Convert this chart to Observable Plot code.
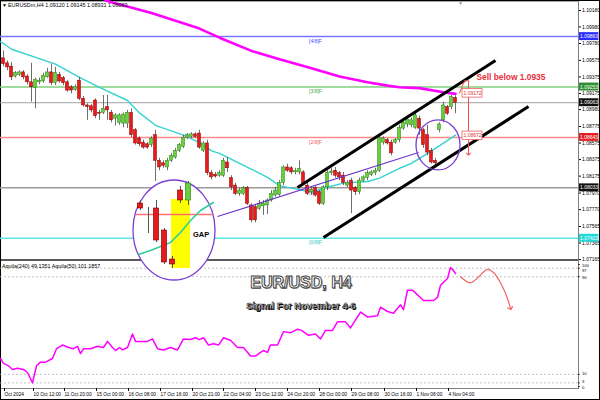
<!DOCTYPE html>
<html><head><meta charset="utf-8">
<script src="https://cdn.jsdelivr.net/npm/d3@7"></script>
<script src="https://cdn.jsdelivr.net/npm/@observablehq/plot@0.6"></script>
<style>
html,body{margin:0;padding:0;background:#fff;}
#wrap{position:relative;width:600px;height:400px;overflow:hidden;background:#fff;font-family:"Liberation Sans",Arial,sans-serif;}
#wrap > *{position:absolute;}
</style></head><body>
<div id="wrap"></div>
<script>
// ---------- price bars (H4, index 0 = first visible bar) ----------
const open = [1.0960,1.0954,1.0950,1.0938,1.0940,1.0943,1.0938,1.0931,1.0924,1.0931,
1.0932,1.0937,1.0943,1.0930,1.0940,1.0936,1.0931,1.0925,1.0922,1.0933,
1.0911,1.0903,1.0902,1.0909,1.0894,1.0894,1.0901,1.0894,1.0887,1.0882,
1.0881,1.0881,1.0894,1.0873,1.0863,1.0858,1.0856,1.0855,1.0867,1.0836,
1.0833,1.0828,1.0836,1.0840,1.0848,1.0853,1.0864,1.0865,1.0868,1.0869,
1.0848,1.0857,1.0821,1.0819,1.0818,1.0818,1.0834,1.0815,1.0806,1.0796,
1.0796,1.0803,1.0782,1.0780,1.0778,1.0781,1.0782,1.0788,1.0794,1.0795,
1.0809,1.0828,1.0827,1.0822,1.0822,1.0822,1.0806,1.0798,1.0803,1.0798,
1.0784,1.0804,1.0821,1.0824,1.0821,1.0818,1.0806,1.0812,1.0803,1.0798,
1.0812,1.0815,1.0819,1.0821,1.0824,1.0858,1.0861,1.0858,1.0858,1.0861,
1.0875,1.0880,1.0879,1.0876,1.0887,1.0873,1.0867,1.0848,1.0836,1.0873,
1.0885,1.0901,1.0901,1.09120];
const high = [1.0969,1.0957,1.0955,1.0944,1.0945,1.0945,1.0940,1.0954,1.0936,1.0936,
1.0942,1.0948,1.0953,1.0949,1.0943,1.0938,1.0933,1.0927,1.0928,1.0937,
1.0914,1.0905,1.0904,1.0911,1.0897,1.0915,1.0915,1.0897,1.0893,1.0893,
1.0894,1.0897,1.0899,1.0875,1.0865,1.0861,1.0858,1.0865,1.0873,1.0839,
1.0836,1.0839,1.0845,1.0851,1.0857,1.0867,1.0869,1.0870,1.0870,1.0873,
1.0859,1.0861,1.0824,1.0822,1.0824,1.0839,1.0840,1.0818,1.0809,1.0803,
1.0805,1.0805,1.0784,1.0782,1.0788,1.0788,1.0790,1.0800,1.0804,1.0812,
1.0830,1.0832,1.0829,1.0827,1.0836,1.0824,1.0809,1.0805,1.0805,1.0800,
1.0806,1.0824,1.0827,1.0828,1.0823,1.0822,1.0812,1.0815,1.0805,1.0815,
1.0818,1.0824,1.0824,1.0827,1.0867,1.0865,1.0863,1.0861,1.0863,1.0879,
1.0887,1.0890,1.0888,1.0894,1.0890,1.0875,1.0879,1.0851,1.0839,1.0882,
1.0907,1.0903,1.0915,1.09145];
const low = [1.0950,1.0945,1.0933,1.0936,1.0938,1.0934,1.0928,1.0907,1.0899,1.0928,
1.0930,1.0936,1.0927,1.0927,1.0930,1.0927,1.0919,1.0917,1.0920,1.0909,
1.0901,1.0885,1.0894,1.0887,1.0885,1.0892,1.0885,1.0882,1.0878,1.0879,
1.0876,1.0875,1.0864,1.0855,1.0853,1.0850,1.0850,1.0852,1.0811,1.0824,
1.0827,1.0824,1.0834,1.0838,1.0846,1.0851,1.0862,1.0863,1.0863,1.0850,
1.0846,1.0818,1.0813,1.0815,1.0816,1.0816,1.0822,1.0800,1.0794,1.0793,
1.0794,1.0782,1.0761,1.0761,1.0776,1.0770,1.0771,1.0786,1.0792,1.0793,
1.0806,1.0822,1.0819,1.0819,1.0819,1.0806,1.0794,1.0794,1.0792,1.0782,
1.0782,1.0800,1.0818,1.0815,1.0812,1.0806,1.0803,1.0772,1.0794,1.0795,
1.0810,1.0812,1.0817,1.0818,1.0822,1.0855,1.0855,1.0842,1.0856,1.0858,
1.0873,1.0876,1.0876,1.0874,1.0867,1.0851,1.0842,1.0832,1.0830,1.0870,
1.0882,1.0891,1.0898,1.08931];
const close = [1.0953,1.0949,1.0937,1.0942,1.0943,1.0937,1.0931,1.0925,1.0934,1.0933,
1.0939,1.0943,1.0930,1.0942,1.0932,1.0930,1.0921,1.0921,1.0925,1.0911,
1.0903,1.0901,1.0897,1.0890,1.0893,1.0899,1.0897,1.0885,1.0891,1.0891,
1.0892,1.0894,1.0867,1.0857,1.0856,1.0852,1.0852,1.0863,1.0836,1.0828,
1.0830,1.0836,1.0842,1.0848,1.0855,1.0864,1.0867,1.0868,1.0865,1.0852,
1.0857,1.0821,1.0816,1.0817,1.0821,1.0836,1.0827,1.0804,1.0796,1.0800,
1.0803,1.0784,1.0764,1.0764,1.0784,1.0784,1.0788,1.0796,1.0800,1.0809,
1.0828,1.0824,1.0822,1.0824,1.0826,1.0809,1.0796,1.0801,1.0794,1.0784,
1.0804,1.0821,1.0823,1.0818,1.0816,1.0809,1.0809,1.0800,1.0798,1.0812,
1.0816,1.0821,1.0822,1.0824,1.0864,1.0863,1.0857,1.0845,1.0861,1.0876,
1.0882,1.0886,1.0885,1.0891,1.0875,1.0855,1.0846,1.0834,1.0833,1.0880,
1.0903,1.0893,1.0913,1.09063];

// moving averages (bar index, value)
const cyanIdx = [-0.75,0,2,13,19,24,31,34,38,45,49,52,54,59,66,69,72,77,81,85,91,94,99,102,104,108,113];
const cyanVal = [1.0980,1.0978,1.0971,1.0953,1.0937,1.0925,1.0909,1.0894,1.0879,1.0867,1.0858,1.0848,1.0845,1.0833,1.0816,1.0806,1.0803,1.0798,1.0804,1.0809,1.0811,1.0815,1.0827,1.0833,1.0839,1.0851,1.0867];
const magIdx = [25.5,27,37,49,54,62,69,77,84,91,96,99,104,110,113];
const magVal = [1.1030,1.1028,1.1015,1.0996,1.0985,1.0969,1.0959,1.0948,1.0938,1.0931,1.0927,1.0925,1.0924,1.0919,1.0917];

// Murray math levels
const murrayVal = [1.09863,1.09253,1.08643,1.08033,1.07423];
const murrayName = ["[4/8]F","[3/8]F","[2/8]F","[1/8]F","[0/8]F"];
const currentPrice = 1.09063;

// right axis
const priceTicks = [1.07165,1.07365,1.07565,1.07770,1.07970,1.08175,1.08375,1.08575,1.08775,1.08980,1.09175,1.09375,1.09575,1.09780,1.09980,1.10180];
const priceTickLabels = ["1.07165","1.07365","1.07565","1.07770","1.07970","1.08175","1.08375","1.08575","1.08775","1.08980","1.09175","1.09375","1.09575","1.09780","1.09980","1.10180"];
const boxVal = [1.09863,1.09253,1.09063,1.08643,1.08033,1.07423];
const boxText = ["1.09863","1.09253","1.09063","1.08643","1.08033","1.07423"];

// drawn objects (bar index, price)
const chanX1 = [73.5,80], chanY1 = [1.08037,1.07432], chanX2 = [123,131.25], chanY2 = [1.09574,1.09017];
const trendX = [53.5,103.75], trendY = [1.07686,1.08461];
const ellCx = [42.75,108.75], ellCy = [1.07517,1.08546], ellRx = [10.25,5.5], ellRy = [0.00605,0.003025];
const sellIdx = [114,115.25,116.25,116.25], sellVal = [1.0918,1.0933,1.0933,1.0844];
const maLabelVal = [1.09177,1.08662], maLabelText = ["1.09172","1.08672"];

// zoomed gap inset (bar slot, price)
const inJ = [0,1,2,3,4,5,6];
const inOpen = [1.08846,1.08727,1.08811,1.08657,1.08454,1.08937,1.08867];
const inHigh = [1.08867,1.08818,1.08867,1.08671,1.08475,1.08965,1.09000];
const inLow = [1.08797,1.08636,1.08573,1.08419,1.08391,1.08846,1.08832];
const inClose = [1.08811,1.08727,1.08587,1.08433,1.08419,1.08867,1.08986];
const inCyanJ = [-0.25,1.25,3.75,5,6.25,7.5,9.1];
const inCyanV = [1.08489,1.08517,1.08573,1.08643,1.08727,1.08797,1.08853];
const gapJ = [3.875,6.25], gapV = [1.08391,1.08874];
const inRedLevel = 1.08769;

// oscillator panel
const aqIdx = [-0.75,0,1.25,2.25,3.5,5,6,7.25,8.25,9.25,10.5,12.25,13.25,14.75,16.25,17.5,18.5,19.25,20,21.75,23.5,25,26,27.25,28,29,29.75,31,32.25,33,36,37.25,38.5,40,41.75,43.5,45,46.75,48,49,50,51.25,52.5,53.75,55,56.75,58.5,60,61.75,63,64.25,65,66,66.75,68.5,70,71.75,73.5,74.5,76.25,78,79.25,80.5,82.25,83.5,85.5,86.75,89.25,91,93.5,94.25,96,97.5,99.25,100,101,102.25,105,107.5,108.5,109.25,111,111.75,112.5,113];
const aqVal = [23,19,17,14,15,14,11.5,3,17,20,20,23,31,34,32,31,33,27,31,31,33,32,37,32,29.5,32,30,32,43,37,37,39,31,30,32,30,39,38.5,40,38.5,40,34,35,34,40,38,32,32,25,25,28,29.5,28,34,34,45,44,47,46,42,43,39,46,46,53,53,48,61,57,58,65,61.5,60,67,63,79,79,70.5,70.5,73,83,88.5,97.5,95,92.6];
const aqLevels = [97,90,10,3];
const aqTicks = [100,97,90,10,3,0];
const fcIdx = [114.25,116.75,118.5,121,122.5,124.25,126,126.75];
const fcVal = [90,85,89,96,93.4,85,72,64];

// time axis
const xTickIdx = [0,7.25,15,23,31,39,47,54.75,62.75,70.75,78.75,86.75,95,103,111];
const xTickLabels = ["Oct 2024","10 Oct 12:00","11 Oct 20:00","15 Oct 00:00","16 Oct 08:00","17 Oct 16:00","20 Oct 21:00","22 Oct 04:00","23 Oct 12:00","24 Oct 20:00","28 Oct 00:00","29 Oct 08:00","30 Oct 16:00","1 Nov 08:00","4 Nov 04:00"];

// ---------- styles ----------
const murrayColor = ["#7878ff","#7fcf7f","#ff8a8a","#9a9a9a","#5fe6e6"];
const murrayTextColor = ["#4a4aff","#3fa83f","#f05a5a","#777","#2cc6c6"];
const boxColor = ["#2b2bff","#2e8f2e","#111","#e42020","#111","#22d8d8"];
const aqLabelShift = [1.0,2.7,1.2,-0.5,-1.6,1.3];
const FONT = "Liberation Sans, Arial, sans-serif";

const wrap = document.getElementById("wrap");
function addDiv(css, text){const d=document.createElement("div");d.style.cssText="position:absolute;"+css;if(text)d.textContent=text;wrap.appendChild(d);return d;}
function place(node,left,top){node.style.position="absolute";node.style.left=left+"px";node.style.top=top+"px";wrap.appendChild(node);}

// frames
addDiv("left:0;top:0;width:600px;height:400px;box-sizing:border-box;border:1px solid #000;");
addDiv("left:578px;top:1px;width:1px;height:388px;background:#808080;");
addDiv("left:1px;top:1px;width:577px;height:1px;background:#a8a8a8;");
addDiv("left:1px;top:259px;width:577px;height:2px;background:#5a5a5a;");
addDiv("left:1px;top:388px;width:577px;height:1px;background:#808080;");

const bars = open.map((o,k)=>({i:k,o,h:high[k],l:low[k],c:close[k]}));
const tickLabelOf = new Map(priceTicks.map((v,k)=>[v,priceTickLabels[k]]));
const xLabelOf = new Map(xTickIdx.map((v,k)=>[v,xTickLabels[k]]));

// ---------- lower oscillator panel ----------
const lower = Plot.plot({
  width:600,height:139,marginTop:3,marginBottom:12,marginLeft:0,marginRight:22,
  x:{domain:[-0.75,143.75],axis:null},
  y:{domain:[-1.6,100],axis:null},
  style:{background:"transparent",overflow:"visible",fontFamily:FONT,fontSize:"5px",color:"#000"},
  marks:[
    Plot.ruleY(aqLevels,{stroke:"#b5b5b5",strokeWidth:0.8,strokeDasharray:"2,2"}),
    Plot.line(aqIdx,{x:d=>d,y:(d,k)=>aqVal[k],stroke:"#ff00ff",strokeWidth:1.5}),
    Plot.line(fcIdx,{x:d=>d,y:(d,k)=>fcVal[k],stroke:"#f06464",strokeWidth:1.2,curve:"catmull-rom",markerEnd:"arrow"}),
    Plot.ruleY(aqTicks,{x1:143.75,x2:144.25,stroke:"#000",strokeWidth:0.7}),
    ...aqTicks.map((v,k)=>Plot.text([String(v)],{x:144.6,y:v,dy:aqLabelShift[k],text:d=>d,textAnchor:"start",fontSize:4.2,fill:"#000"})),
    Plot.axisX({anchor:"bottom",ticks:xTickIdx,tickFormat:d=>xLabelOf.get(d),tickSize:3,tickPadding:1.5,fontSize:4.8,textAnchor:"start",dx:1})
  ]
});
place(lower,0,261);

// ---------- main price panel ----------
const ellipseMark = (index, scales) => {
  const g = d3.create("svg:g");
  ellCx.forEach((cx,k)=>{
    const x0 = scales.x(cx), y0 = scales.y(ellCy[k]);
    g.append("ellipse").attr("cx",x0).attr("cy",y0)
      .attr("rx",Math.abs(scales.x(cx+ellRx[k])-x0))
      .attr("ry",Math.abs(scales.y(ellCy[k]+ellRy[k])-y0))
      .attr("fill",k===0?"#fff":"none").attr("stroke","#7b3fd2").attr("stroke-width",1.3);
  });
  return g.node();
};

const main = Plot.plot({
  width:600,height:260,marginTop:0,marginBottom:1,marginLeft:0,marginRight:22,
  x:{domain:[-0.75,143.75],axis:null},
  y:{domain:[1.07166,1.1030],axis:null},
  color:{type:"identity"},
  style:{background:"transparent",overflow:"visible",fontFamily:FONT,fontSize:"5px",color:"#000"},
  marks:[
    ...murrayVal.map((v,k)=>Plot.ruleY([v],{stroke:murrayColor[k],strokeWidth:1.5,x1:-0.75,x2:143.75})),
    Plot.ruleY([currentPrice],{stroke:"#a0a0a0",strokeWidth:1,x1:-0.75,x2:143.75}),
    ...murrayVal.map((v,k)=>Plot.text([murrayName[k]],{x:78,y:v,dy:4.5,text:d=>d,fill:murrayTextColor[k],fontSize:5})),
    Plot.line(magIdx,{x:d=>d,y:(d,k)=>magVal[k],stroke:"#ff00ff",strokeWidth:2.6}),
    Plot.line(cyanIdx,{x:d=>d,y:(d,k)=>cyanVal[k],stroke:"#33d3d3",strokeWidth:1.4}),
    Plot.ruleX(bars,{x:"i",y1:"l",y2:"h",stroke:"#4a4a4a",strokeWidth:0.8}),
    Plot.rect(bars,{x1:d=>d.i-0.38,x2:d=>d.i+0.38,y1:d=>Math.min(d.o,d.c),y2:d=>Math.max(d.o,d.c),
      fill:d=>d.c>=d.o?"#66d13c":"#e61c1c",stroke:d=>d.c>=d.o?"#2f7d1f":"#8c0000",strokeWidth:0.5}),
    Plot.link(chanX1,{x1:d=>d,y1:(d,k)=>chanY1[k],x2:(d,k)=>chanX2[k],y2:(d,k)=>chanY2[k],stroke:"#000",strokeWidth:3}),
    Plot.link([trendX[0]],{x1:d=>d,y1:trendY[0],x2:trendX[1],y2:trendY[1],stroke:"#6b35c9",strokeWidth:1.2}),
    ellipseMark,
    Plot.line(sellIdx,{x:d=>d,y:(d,k)=>sellVal[k],stroke:"#f05050",strokeWidth:1,markerEnd:"arrow"}),
    Plot.rect(maLabelVal,{x1:114.75,x2:119.75,y1:d=>d-0.00052,y2:d=>d+0.00052,fill:"#fff",stroke:"#f06060",strokeWidth:0.8}),
    Plot.text(maLabelVal,{x:117.25,y:d=>d,text:(d,k)=>maLabelText[k],fill:"#e03030",fontSize:5}),
    Plot.text(["Sell below 1.0935"],{x:118.25,y:1.09368,text:d=>d,textAnchor:"start",fill:"#e8303a",fontWeight:"bold",fontSize:8.4}),
    Plot.axisY({anchor:"right",ticks:priceTicks,tickFormat:d=>tickLabelOf.get(d),tickSize:2,tickPadding:1.5,fontSize:5}),
    Plot.rect(boxVal,{x1:144,x2:148.85,y1:d=>d-0.00048,y2:d=>d+0.00048,fill:(d,k)=>boxColor[k]}),
    Plot.text(boxVal,{x:146.4,y:d=>d,text:(d,k)=>boxText[k],fill:"#fff",fontSize:5})
  ]
});
place(main,0,0);

// ---------- zoomed gap inset inside the big circle ----------
const inBars = inJ.map((j,k)=>({j,o:inOpen[k],h:inHigh[k],l:inLow[k],c:inClose[k]}));
const inset = Plot.plot({
  width:84,height:100,marginTop:0,marginBottom:0,marginLeft:0,marginRight:0,
  x:{domain:[-0.875,9.625],axis:null},
  y:{domain:[1.0830,1.0900],axis:null},
  color:{type:"identity"},
  style:{background:"transparent",overflow:"visible",fontFamily:FONT},
  marks:[
    Plot.rect([0],{x1:gapJ[0],x2:gapJ[1],y1:gapV[0],y2:gapV[1],fill:"#ffff00"}),
    Plot.ruleY([inRedLevel],{x1:-0.55,x2:9.1,stroke:"#ff7070",strokeWidth:1.3}),
    Plot.line(inCyanJ,{x:d=>d,y:(d,k)=>inCyanV[k],stroke:"#2fcf9a",strokeWidth:1.6}),
    Plot.ruleX(inBars,{x:"j",y1:"l",y2:"h",stroke:"#555",strokeWidth:1}),
    Plot.rect(inBars,{x1:d=>d.j-0.33,x2:d=>d.j+0.33,y1:d=>Math.min(d.o,d.c),y2:d=>Math.max(d.o,d.c),
      fill:d=>d.c>d.o?"#66d13c":(d.c<d.o?"#e61c1c":"#555"),stroke:d=>d.c>d.o?"#2f7d1f":"#7a0000",strokeWidth:0.6}),
    Plot.text(["GAP"],{x:6.55,y:1.08629,text:d=>d,textAnchor:"start",fontWeight:"bold",fontSize:7.5,fill:"#000"})
  ]
});
place(inset,133,181);

// ---------- texts ----------
addDiv("left:2px;top:2px;font-size:5px;color:#000;white-space:nowrap;","▼");
addDiv("left:8px;top:2px;font-size:5.4px;color:#000;white-space:nowrap;","EURUSDm,H4  1.09120  1.09145  1.08931  1.09063");
addDiv("left:458px;top:0px;font-size:5px;color:#999;white-space:nowrap;","▼");
addDiv("left:2px;top:263px;font-size:5.4px;color:#000;white-space:nowrap;","Aquila(240) 49.1351  Aquila(50) 101.1857");
addDiv("left:201px;width:200px;top:275px;text-align:center;font-size:16px;line-height:16px;font-weight:bold;color:#fff;-webkit-text-stroke:0.9px #3a3a3a;text-shadow:1px 1px 0 #9a9a9a;white-space:nowrap;","EUR/USD, H4");
addDiv("left:201px;width:200px;top:302px;text-align:center;font-size:9.3px;line-height:9.5px;font-weight:bold;color:#fff;-webkit-text-stroke:0.5px #000;text-shadow:1px 1px 0 #000;white-space:nowrap;","Signal For November 4-6");
</script>
</body></html>
